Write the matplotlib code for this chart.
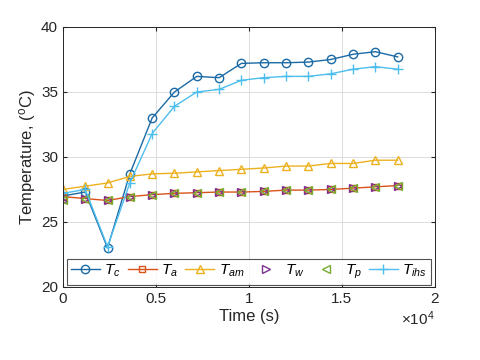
import matplotlib
matplotlib.use("Agg")
import matplotlib.pyplot as plt
import numpy as np

plt.rcParams['font.family'] = ['Liberation Sans', 'DejaVu Sans']
plt.rcParams['mathtext.fontset'] = 'custom'
plt.rcParams['mathtext.it'] = 'Liberation Sans:italic'
plt.rcParams['mathtext.rm'] = 'Liberation Sans'

time_s = [0, 1200, 2400, 3600, 4800, 6000, 7200, 8400, 9600, 10800,
          12000, 13200, 14400, 15600, 16800, 18000]
T_c = [27.0, 27.3, 23.0, 28.7, 33.0, 35.0, 36.2, 36.1, 37.2, 37.25,
       37.25, 37.3, 37.5, 37.9, 38.1, 37.7]
T_a = [26.95, 26.8, 26.65, 26.95, 27.1, 27.2, 27.25, 27.3, 27.3, 27.35,
       27.45, 27.45, 27.5, 27.6, 27.7, 27.8]
T_am = [27.5, 27.75, 28.0, 28.5, 28.7, 28.75, 28.85, 28.95, 29.05, 29.15,
        29.3, 29.3, 29.5, 29.5, 29.75, 29.75]
T_w = [26.6, 26.8, 26.7, 26.95, 27.1, 27.2, 27.25, 27.3, 27.3, 27.35,
       27.45, 27.45, 27.5, 27.6, 27.7, 27.75]
T_p = [26.7, 26.8, 26.7, 26.95, 27.1, 27.2, 27.25, 27.3, 27.3, 27.35,
       27.45, 27.45, 27.5, 27.6, 27.7, 27.8]
T_ihs = [27.2, 27.5, 23.1, 28.0, 31.8, 33.9, 35.0, 35.2, 35.9, 36.1,
         36.2, 36.2, 36.4, 36.75, 36.95, 36.75]

x_ticks = [0, 5000, 10000, 15000, 20000]
x_tick_labels = ['0', '0.5', '1', '1.5', '2']
y_ticks = [20, 25, 30, 35, 40]

fig = plt.figure(figsize=(4.8, 3.6), dpi=100)
ax = fig.add_axes([0.131, 0.203, 0.775, 0.722])

ax.plot(time_s, T_c, '-o', color='#1b6aa5', mfc='none', ms=6, lw=1.0, label='$T_c$')
ax.plot(time_s, T_a, '-s', color='#D95319', mfc='none', ms=5, lw=1.0, label='$T_a$')
ax.plot(time_s, T_am, '-^', color='#EDB120', mfc='none', ms=6, lw=1.0, label='$T_{am}$')
ax.plot(time_s, T_w, '>', color='#7E2F8E', mfc='none', ms=6, lw=1.0, label='$T_w$', linestyle='none')
ax.plot(time_s, T_p, '<', color='#77AC30', mfc='none', ms=6, lw=1.0, label='$T_p$', linestyle='none')
ax.plot(time_s, T_ihs, '-+', color='#4DBEEE', ms=7, lw=1.0, label='$T_{ihs}$')

ax.set_xlim(0, 20000)
ax.set_ylim(20, 40)
ax.set_xticks(x_ticks)
ax.set_xticklabels(x_tick_labels)
ax.set_yticks(y_ticks)
ax.grid(True, color='#dcdcdc', lw=0.7)
ax.tick_params(direction='in', top=True, right=True, labelsize=11, colors='#262626', length=3)
for s in ax.spines.values():
    s.set_color('#262626')
    s.set_linewidth(0.7)

ax.set_xlabel('Time (s)', fontsize=12, color='#262626', labelpad=2)
ax.set_ylabel('Temperature, ($^\\mathrm{o}$C)', fontsize=12, color='#262626', labelpad=2)
fig.text(0.905, 0.115, '$\\times\\mathrm{10}^\\mathrm{4}$', ha='right', va='center', fontsize=11, color='#262626')

leg = ax.legend(loc='lower center', ncol=6, fontsize=11, frameon=True, fancybox=False,
                edgecolor='#262626', handlelength=1.9, handletextpad=0.3, columnspacing=0.45,
                borderpad=0.25, borderaxespad=0.15)
leg.get_frame().set_linewidth(0.8)

fig.savefig('out.png', dpi=100)
